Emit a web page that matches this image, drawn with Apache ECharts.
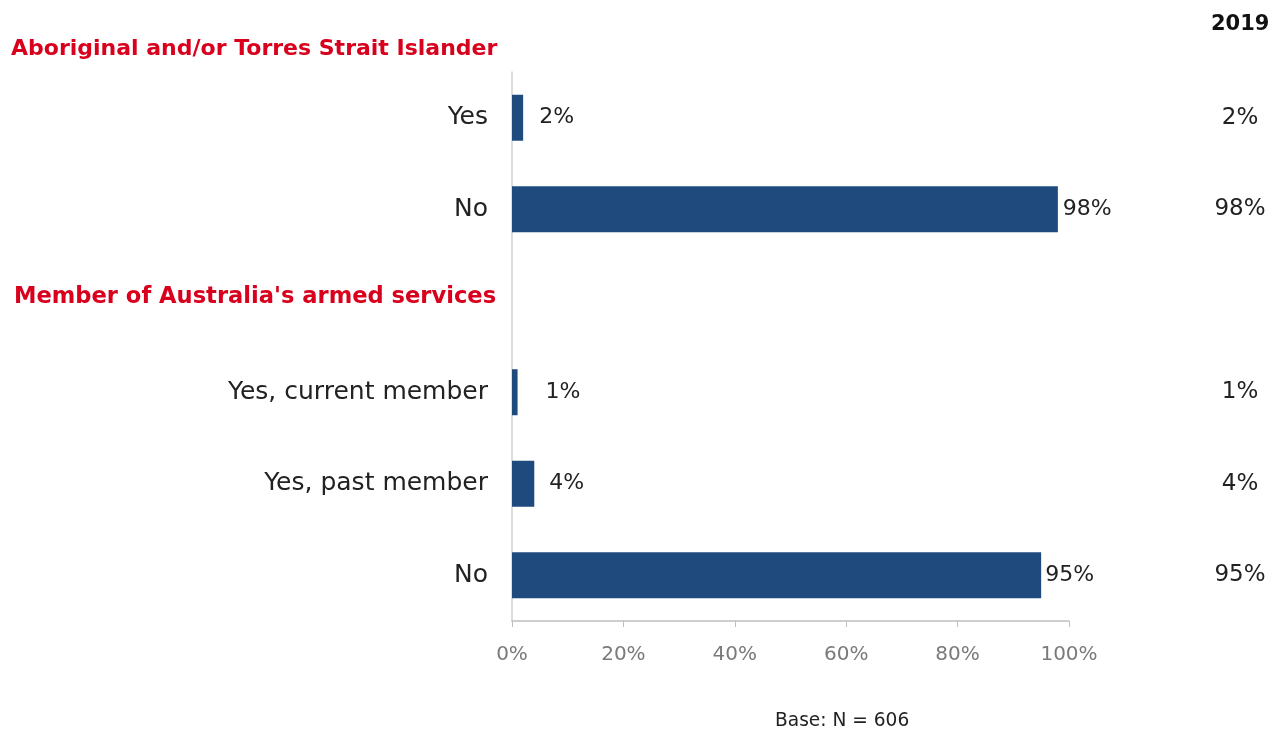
<!DOCTYPE html>
<html>
<head>
<meta charset="utf-8">
<script src="https://cdn.jsdelivr.net/npm/echarts@6/dist/echarts.min.js"></script>
<style>
html,body{margin:0;padding:0;background:#fff;}
#chart{width:1282px;height:738px;}
</style>
</head>
<body>
<div id="chart"></div>
<script>
// ---- data ----
const categories = ['Yes', 'No', '', 'Yes, current member', 'Yes, past member', 'No '];
const values = [2, 98, null, 1, 4, 95];
const col2019 = ['2%', '98%', '', '1%', '4%', '95%'];
const groupHeaders = ['Aboriginal and/or Torres Strait Islander', "Member of Australia's armed services"];
const xTicks = [0, 20, 40, 60, 80, 100];
const columnTitle = '2019';
const baseNote = 'Base: N = 606';

// label gaps (layout only)
const labelGaps = [16, 5, 0, 28, 15, 4];

const FONT = "'Century Gothic','DejaVu Sans',sans-serif";
const chart = echarts.init(document.getElementById('chart'));

const grid = {left: 512, right: 213, top: 72, bottom: 117};

chart.setOption({
  animation: false,
  backgroundColor: '#ffffff',
  grid: grid,
  xAxis: {
    type: 'value', min: 0, max: 100, interval: 20,
    axisLine: {show: true, lineStyle: {color: '#bfbfbf', width: 1.5}},
    axisTick: {show: true, length: 6, lineStyle: {color: '#bfbfbf'}},
    splitLine: {show: false},
    axisLabel: {formatter: v => xTicks.includes(v) ? v + '%' : '', color: '#7a7a7a', fontSize: 20, fontFamily: FONT, margin: 24}
  },
  yAxis: [{
    type: 'category', inverse: true, data: categories,
    axisLine: {show: true, lineStyle: {color: '#d0d0d0', width: 1.5}},
    axisTick: {show: false},
    axisLabel: {formatter: v => v.trim(), color: '#222', fontSize: 25, fontFamily: FONT, margin: 24}
  }, {
    type: 'category', inverse: true, data: col2019, position: 'right',
    axisLine: {show: false}, axisTick: {show: false},
    axisLabel: {color: '#222', fontSize: 23, fontFamily: FONT, align: 'center', margin: 171}
  }],
  series: [{
    type: 'bar', barWidth: 46,
    data: values.map((v, i) => ({value: v, label: {distance: labelGaps[i]}})),
    itemStyle: {color: '#1f4a7e'},
    label: {show: true, position: 'right', formatter: p => p.value + '%', color: '#222', fontSize: 22, fontFamily: FONT}
  }],
  graphic: [
    {type: 'text', left: 11, top: 38, style: {text: groupHeaders[0], fill: '#d8001c', font: "bold 22px " + FONT}},
    {type: 'text', left: 14, top: 286, style: {text: groupHeaders[1], fill: '#d8001c', font: "bold 22.6px " + FONT}},
    {type: 'text', left: 1211, top: 14, style: {text: columnTitle, fill: '#111', font: "bold 21px " + FONT}},
    {type: 'text', left: 775, top: 712, style: {text: baseNote, fill: '#222', font: "18.6px " + FONT}}
  ]
});
</script>
</body>
</html>
